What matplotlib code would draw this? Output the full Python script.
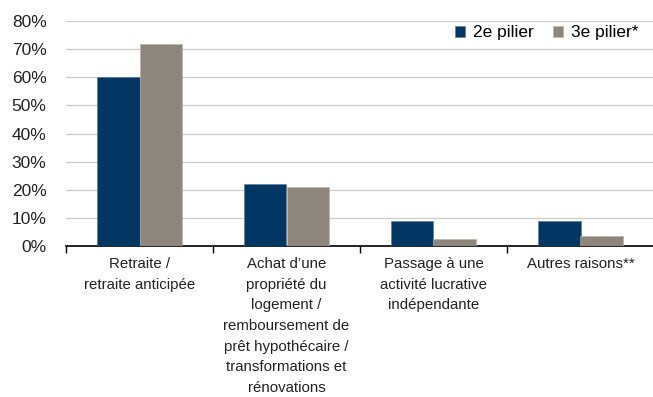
import numpy as np
import matplotlib
matplotlib.use("Agg")
import matplotlib.pyplot as plt
from matplotlib.ticker import PercentFormatter

plt.rcParams['font.family'] = ['Liberation Sans', 'DejaVu Sans']

categories = [
    "Retraite /\nretraite anticipée",
    "Achat d\u2019une\npropriété du\nlogement /\nremboursement de\nprêt hypothécaire /\ntransformations et\nrénovations",
    "Passage à une\nactivité lucrative\nindépendante",
    "Autres raisons**",
]
pilier2 = [60, 22, 9, 9]
pilier3 = [72, 21, 2.5, 3.5]
series_names = ["2e pilier", "3e pilier*"]

navy = "#023764"
taupe = "#8e867d"

fig = plt.figure(figsize=(6.53, 3.97), dpi=100)
ax = fig.add_axes([66 / 653, 151 / 397, 588 / 653, 225 / 397])

x = np.arange(len(categories))
w = 0.286
ax.bar(x - w / 2, pilier2, w, color=navy, edgecolor="#5a7896", linewidth=0.4,
       label=series_names[0], zorder=3)
ax.bar(x + w / 2, pilier3, w, color=taupe, edgecolor="#b8b1aa", linewidth=0.4,
       label=series_names[1], zorder=3)

ax.set_xlim(-0.5, len(categories) - 0.5)
ax.set_ylim(0, 80)
ax.set_yticks(np.arange(0, 81, 10))
ax.yaxis.set_major_formatter(PercentFormatter(decimals=0))
ax.tick_params(axis='y', length=0, labelsize=12.5, pad=14, colors="#222222")
ax.grid(axis='y', color="#cccccc", linewidth=0.9, zorder=0)

ax.set_xticks(x)
ax.set_xticklabels(categories, fontsize=10.8, linespacing=1.6, va='top')
ax.set_xticks(np.arange(-0.5, len(categories)), minor=True)
ax.tick_params(axis='x', which='major', length=0, pad=8, colors="#222222")
ax.tick_params(axis='x', which='minor', length=5, width=1, color="black",
               direction='out')

for side in ['top', 'right', 'left']:
    ax.spines[side].set_visible(False)
ax.spines['bottom'].set_color("black")
ax.spines['bottom'].set_linewidth(1.2)

ax.legend(loc='upper right', bbox_to_anchor=(1.0, 1.05), ncol=2,
          frameon=False, fontsize=12.5, handlelength=0.6, handleheight=0.6,
          handletextpad=0.45, columnspacing=1.1)

fig.savefig("out.png", dpi=100)
